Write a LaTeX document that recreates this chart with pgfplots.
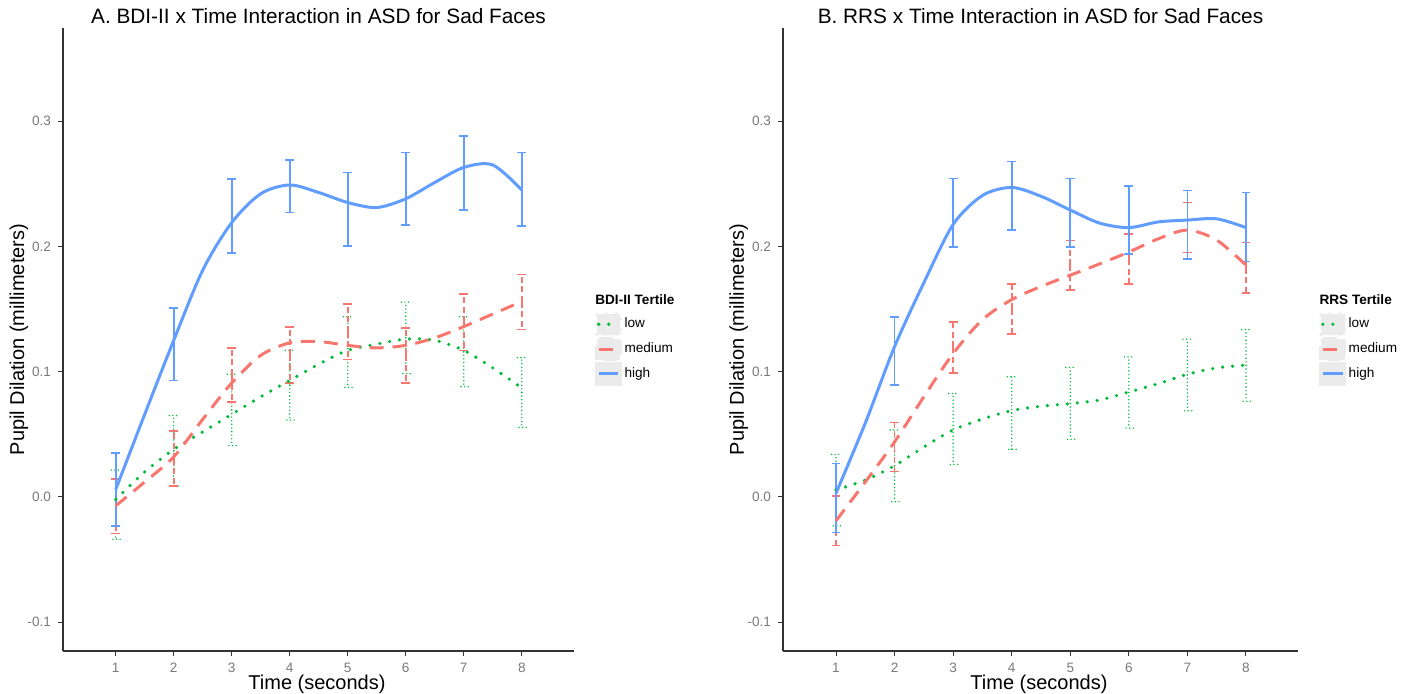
\documentclass[border=0pt]{standalone}
\usepackage{pgfplots}
\usepackage{pgfplotstable}
\pgfplotsset{compat=1.18}
\usepackage{fontspec}
\setmainfont{Liberation Sans}

\definecolor{cR}{HTML}{F8766D}
\definecolor{cG}{HTML}{00BA38}
\definecolor{cB}{HTML}{619CFF}
\definecolor{tickgray}{HTML}{7A7A7A}
\definecolor{axisgray}{HTML}{333333}

% smoothed curves (half-second steps)
\pgfplotstableread{
t   low     med     high
1   -0.002  -0.007  0.006
1.5 0.020   0.012   0.066
2   0.038   0.032   0.125
2.5 0.052   0.062   0.181
3   0.066   0.091   0.219
3.5 0.080   0.113   0.242
4   0.093   0.123   0.249
4.5 0.106   0.124   0.243
5   0.117   0.121   0.235
5.5 0.122   0.119   0.231
6   0.126   0.121   0.238
6.5 0.125   0.127   0.251
7   0.117   0.136   0.263
7.5 0.103   0.146   0.265
8   0.087   0.156   0.245
}\curvesA

% means and error half-widths
\pgfplotstableread{
t  lm      le      mm      me      hm      he
1  -0.0061 0.0276  -0.0074 0.0217  0.006   0.029
2  0.0369  0.0281  0.0307  0.0219  0.122   0.029
3  0.0695  0.0285  0.0975  0.0215  0.2245  0.0295
4  0.0892  0.0278  0.1134  0.0224  0.248   0.021
5  0.1156  0.0282  0.1318  0.022   0.2295  0.0295
6  0.127   0.0285  0.113   0.022   0.246   0.029
7  0.1159  0.0279  0.1394  0.0224  0.2585  0.0295
8  0.0834  0.0279  0.1557  0.022   0.2455  0.0295
}\barsA

\pgfplotstableread{
t   low     med     high
1   0.0056  -0.019  0.003
1.5 0.0135  0.012   0.059
2   0.0250  0.044   0.120
2.5 0.0399  0.080   0.171
3   0.0535  0.1145  0.2175
3.5 0.0622  0.1415  0.2406
4   0.0690  0.1575  0.247
4.5 0.0724  0.168   0.240
5   0.0745  0.177   0.229
5.5 0.0774  0.186   0.2186
6   0.0838  0.1955  0.215
6.5 0.0904  0.206   0.2195
7   0.0979  0.213   0.221
7.5 0.1030  0.205   0.222
8   0.1053  0.185   0.215
}\curvesB

\pgfplotstableread{
t  lm      le      mm      me      hm      he
1  0.0055  0.0285  -0.0189 0.0199  -0.0008 0.0276
2  0.0249  0.0286  0.0399  0.0197  0.1165  0.0273
3  0.0543  0.0283  0.1194  0.0204  0.2268  0.0273
4  0.067   0.029   0.150   0.020   0.2405  0.0272
5  0.0747  0.0287  0.1849  0.0199  0.2268  0.0273
6  0.0834  0.0284  0.190   0.020   0.221   0.027
7  0.0974  0.0286  0.215   0.020   0.2173  0.0273
8  0.105   0.0286  0.183   0.020   0.2155  0.0275
}\barsB

\pgfplotsset{
  panel/.style={
    scale only axis, anchor=south west,
    height=311.5pt,
    ymin=-0.1229, ymax=0.3743,
    axis x line*=bottom, axis y line*=left,
    axis line style={axisgray, line width=0.7pt},
    tick style={axisgray, line width=0.5pt},
    tick align=outside, major tick length=2.5pt,
    xtick={1,2,3,4,5,6,7,8},
    xticklabels={1,2,3,4,5,6,7,8},
    ytick={-0.1,0,0.1,0.2,0.3},
    yticklabels={-0.1,0.0,0.1,0.2,0.3},
    ticklabel style={font=\fontsize{6.8}{8}\selectfont, text=tickgray},
    label style={font=\fontsize{8.5}{10}\selectfont},
    xlabel={Time (seconds)},
    ylabel={Pupil Dilation (millimeters)},
    every axis x label/.style={at={(axis description cs:0.497,-0.0625)}, anchor=base},
    every axis y label/.style={at={(axis description cs:-0.086,0.5)}, rotate=90, anchor=center},
    every axis title shift=0pt,
    title style={font=\fontsize{10.4}{12}\selectfont, at={(axis description cs:0.5,1.0064)}, anchor=base},
    clip=false,
    legend cell align=left,
    legend image code/.code={
      \fill[black!8] (0pt,-5.2pt) rectangle (11.8pt,5.2pt);
      \draw[#1] (1pt,0pt) -- (10.8pt,0pt);
    },
    legend style={anchor=north west, draw=none, fill=none,
      font=\fontsize{6.8}{8}\selectfont, row sep=0.45pt, column sep=1.2pt,
      inner sep=0pt, outer sep=0pt,
      nodes={inner sep=0pt, text height=5pt, text depth=1.5pt}},
  },
  lowline/.style={cG, line width=1.8pt, line cap=round, dash pattern=on 0pt off 5pt},
  medline/.style={cR, line width=1.5pt, dash pattern=on 7pt off 4.5pt},
  highline/.style={cB, line width=1.5pt},
  ebar/.style={draw=none, forget plot,
    error bars/.cd, y dir=both, y explicit},
}

\begin{document}
\begin{tikzpicture}
\useasboundingbox (0,0) rectangle (705pt,347pt);

\begin{axis}[panel, at={(31.5pt,21.5pt)}, width=255.5pt,
  xmin=0.0914, xmax=8.90,
  title={A. BDI-II x Time Interaction in ASD for Sad Faces},
  legend style={at={(1.041,0.544)}}]
\addplot[ebar, error bar style={cG, line width=0.8pt, line cap=round, dash pattern=on 0pt off 1.8pt},
  error mark options={cG, rotate=90, line width=0.8pt, mark size=2.2pt, line cap=round, dash pattern=on 0pt off 1.8pt}]
  table[x=t, y=lm, y error=le] {\barsA};
\addplot[ebar, error bar style={cR, line width=0.8pt, dash pattern=on 3pt off 1.8pt},
  error mark options={cR, rotate=90, line width=0.8pt, mark size=2.2pt, solid}]
  table[x=t, y=mm, y error=me] {\barsA};
\addplot[ebar, error bar style={cB, line width=0.9pt, solid},
  error mark options={cB, rotate=90, line width=0.9pt, mark size=2.2pt, solid}]
  table[x=t, y=hm, y error=he] {\barsA};
\addplot[lowline, smooth] table[x=t, y=low] {\curvesA};
\addlegendentry{low}
\addplot[medline, smooth] table[x=t, y=med] {\curvesA};
\addlegendentry{medium}
\addplot[highline, smooth] table[x=t, y=high] {\curvesA};
\addlegendentry{high}
\node[anchor=base west, inner sep=0pt, font=\bfseries\fontsize{6.8}{8}\selectfont]
  at (rel axis cs:1.041,0.5554) {BDI-II Tertile};
\end{axis}

\begin{axis}[panel, at={(391.5pt,21.5pt)}, width=257.5pt,
  xmin=0.095, xmax=8.888,
  title={B. RRS x Time Interaction in ASD for Sad Faces},
  legend style={at={(1.041,0.544)}}]
\addplot[ebar, error bar style={cG, line width=0.8pt, line cap=round, dash pattern=on 0pt off 1.8pt},
  error mark options={cG, rotate=90, line width=0.8pt, mark size=2.2pt, line cap=round, dash pattern=on 0pt off 1.8pt}]
  table[x=t, y=lm, y error=le] {\barsB};
\addplot[ebar, error bar style={cR, line width=0.8pt, dash pattern=on 3pt off 1.8pt},
  error mark options={cR, rotate=90, line width=0.8pt, mark size=2.2pt, solid}]
  table[x=t, y=mm, y error=me] {\barsB};
\addplot[ebar, error bar style={cB, line width=0.9pt, solid},
  error mark options={cB, rotate=90, line width=0.9pt, mark size=2.2pt, solid}]
  table[x=t, y=hm, y error=he] {\barsB};
\addplot[lowline, smooth] table[x=t, y=low] {\curvesB};
\addlegendentry{low}
\addplot[medline, smooth] table[x=t, y=med] {\curvesB};
\addlegendentry{medium}
\addplot[highline, smooth] table[x=t, y=high] {\curvesB};
\addlegendentry{high}
\node[anchor=base west, inner sep=0pt, font=\bfseries\fontsize{6.8}{8}\selectfont]
  at (rel axis cs:1.041,0.5554) {RRS Tertile};
\end{axis}
\end{tikzpicture}
\end{document}
